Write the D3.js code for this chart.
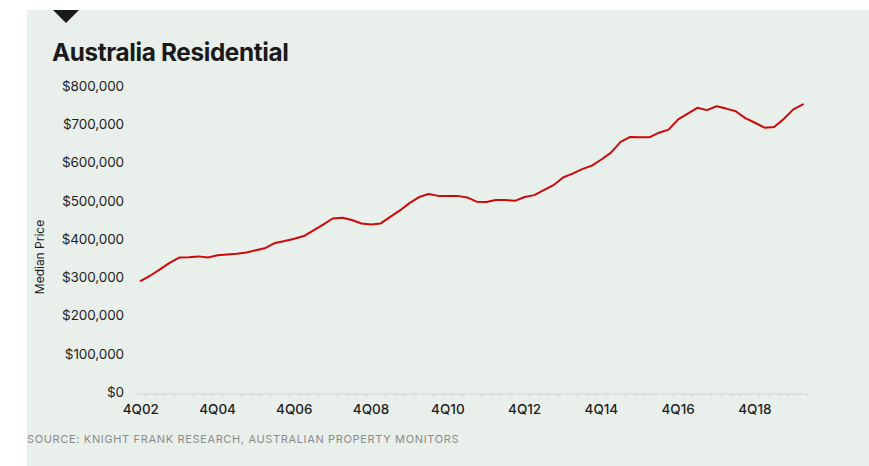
<!DOCTYPE html>
<html>
<head>
<meta charset="utf-8">
<script src="https://cdn.jsdelivr.net/npm/d3@7"></script>
<style>
  html, body { margin: 0; padding: 0; background: #ffffff; }
  svg { display: block; }
  text { font-family: Inter, "Noto Sans", sans-serif; }
</style>
</head>
<body>
<svg id="chart" width="869" height="466"></svg>
<script>
const quarters = [
  "4Q02",
  "1Q03","2Q03","3Q03","4Q03",
  "1Q04","2Q04","3Q04","4Q04",
  "1Q05","2Q05","3Q05","4Q05",
  "1Q06","2Q06","3Q06","4Q06",
  "1Q07","2Q07","3Q07","4Q07",
  "1Q08","2Q08","3Q08","4Q08",
  "1Q09","2Q09","3Q09","4Q09",
  "1Q10","2Q10","3Q10","4Q10",
  "1Q11","2Q11","3Q11","4Q11",
  "1Q12","2Q12","3Q12","4Q12",
  "1Q13","2Q13","3Q13","4Q13",
  "1Q14","2Q14","3Q14","4Q14",
  "1Q15","2Q15","3Q15","4Q15",
  "1Q16","2Q16","3Q16","4Q16",
  "1Q17","2Q17","3Q17","4Q17",
  "1Q18","2Q18","3Q18","4Q18",
  "1Q19","2Q19","3Q19","4Q19",
  "1Q20"
];
const medianPrice = [
  291000,
  305000, 321000, 338000, 352000,
  353000, 355000, 352000, 358000,
  360000, 362000, 365000, 371000,
  377000, 390000, 395000, 401000,
  408000, 423000, 438000, 454000,
  456000, 450000, 441000, 438000,
  441000, 458000, 475000, 494000,
  510000, 518000, 513000, 513000,
  513000, 509000, 498000, 497000,
  502000, 502000, 500000, 510000,
  515000, 528000, 541000, 561000,
  571000, 583000, 592000, 608000,
  626000, 654000, 667000, 666000,
  666000, 678000, 686000, 713000,
  728000, 743000, 737000, 747000,
  741000, 734000, 716000, 704000,
  691000, 693000, 714000, 739000,
  752000
];
const xTickLabels = ["4Q02","4Q04","4Q06","4Q08","4Q10","4Q12","4Q14","4Q16","4Q18"];
const yTicks = [0,100000,200000,300000,400000,500000,600000,700000,800000];

const svg = d3.select("#chart");

// panel background
svg.append("rect").attr("x", 27).attr("y", 10).attr("width", 842).attr("height", 456).attr("fill", "#e9efeb");

// marker triangle
svg.append("path").attr("d", "M53,10 L79,10 L66,23 Z").attr("fill", "#1a1a1a");

// title
svg.append("text").attr("x", 52).attr("y", 61)
  .attr("font-size", 24.3).attr("font-weight", 700).attr("letter-spacing", "-0.35px")
  .attr("fill", "#1a1a1a").text("Australia Residential");

const x = d3.scaleBand().domain(quarters).range([136, 807.7]).padding(0);
const y = d3.scaleLinear().domain([0, 800000]).range([392.3, 86]);

// y labels
const fmt = v => "$" + d3.format(",")(v);
svg.append("g").selectAll("text").data(yTicks).join("text")
  .attr("x", 124).attr("y", d => y(d)).attr("dy", "0.35em")
  .attr("text-anchor", "end").attr("font-size", 13.5).attr("letter-spacing", "-0.1px")
  .attr("fill", "#1e1e1e").text(fmt);

// y title
svg.append("text").attr("transform", "translate(44,257) rotate(-90)")
  .attr("text-anchor", "middle").attr("font-size", 12).attr("fill", "#1e1e1e")
  .text("Median Price");

// x axis baseline and ticks
const axisY = 394;
svg.append("line").attr("x1", x.range()[0]).attr("x2", x.range()[1])
  .attr("y1", axisY).attr("y2", axisY).attr("stroke", "#d3d8d5").attr("stroke-width", 1);
const edges = quarters.map(q => x(q)).concat([x.range()[1]]);
svg.append("g").selectAll("line").data(edges).join("line")
  .attr("x1", d => d).attr("x2", d => d).attr("y1", axisY).attr("y2", axisY + 3)
  .attr("stroke", "#d3d8d5").attr("stroke-width", 1);

// x labels
svg.append("g").selectAll("text").data(xTickLabels).join("text")
  .attr("x", d => x(d) + x.bandwidth() / 2).attr("y", 414)
  .attr("text-anchor", "middle").attr("font-size", 13.5).attr("font-weight", 500)
  .attr("letter-spacing", "0px").attr("fill", "#1e1e1e").text(d => d);

// line
const line = d3.line()
  .x((d, i) => x(quarters[i]) + x.bandwidth() / 2)
  .y(d => y(d));
svg.append("path").datum(medianPrice).attr("d", line)
  .attr("fill", "none").attr("stroke", "#cc0a0a").attr("stroke-width", 2)
  .attr("stroke-linejoin", "round").attr("stroke-linecap", "round");

// source
svg.append("text").attr("x", 27).attr("y", 443)
  .attr("font-size", 11).attr("letter-spacing", "0.65px").attr("fill", "#8a8c8b")
  .text("SOURCE: KNIGHT FRANK RESEARCH, AUSTRALIAN PROPERTY MONITORS");
</script>
</body>
</html>
